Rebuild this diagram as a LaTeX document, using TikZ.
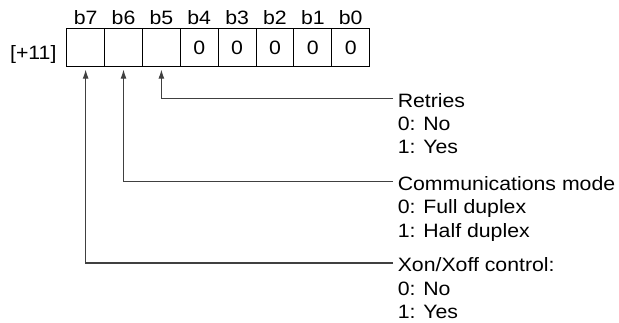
\documentclass[tikz,border=0pt]{standalone}
\usepackage{fontspec}
\setmainfont{Liberation Sans}[FakeStretch=1.1]
\usetikzlibrary{arrows.meta, positioning}
\tikzset{
  cell/.style={
    draw,
    line width=0.75pt,
    minimum width=28.4pt,
    minimum height=28.3pt,
    inner sep=0pt,
    outer sep=0pt
  },
  bitname/.style={anchor=base, inner sep=0pt},
  note/.style={anchor=north west, align=left, inner sep=0pt},
  arrow/.style={-{Latex[length=7pt,width=4.5pt]}, line width=0.9pt, draw=black!75, shorten >=2pt}
}

\begin{document}
\begin{tikzpicture}[x=0.75pt,y=0.75pt,font=\fontsize{14.5}{17.5}\selectfont,node distance=0pt]
    \useasboundingbox (0,0) rectangle (619,323);

    \node[cell] (c7) at (85.65,275.15) {};
    \node[cell, right=of c7] (c6) {};
    \node[cell, right=of c6] (c5) {};
    \node[cell, right=of c5] (c4) {0};
    \node[cell, right=of c4] (c3) {0};
    \node[cell, right=of c3] (c2) {0};
    \node[cell, right=of c2] (c1) {0};
    \node[cell, right=of c1] (c0) {0};

    \node[bitname] (h7) at ([yshift=3pt]c7.north) {b7};
    \node[bitname] (h6) at ([yshift=3pt]c6.north) {b6};
    \node[bitname] (h5) at ([yshift=3pt]c5.north) {b5};
    \node[bitname] (h4) at ([yshift=3pt]c4.north) {b4};
    \node[bitname] (h3) at ([yshift=3pt]c3.north) {b3};
    \node[bitname] (h2) at ([yshift=3pt]c2.north) {b2};
    \node[bitname] (h1) at ([yshift=3pt]c1.north) {b1};
    \node[bitname] (h0) at ([yshift=3pt]c0.north) {b0};

    \node[anchor=base east, inner sep=0pt] (reg) at ([xshift=-7.5pt,yshift=-9.1pt]c7.west) {[+11]};

    \node[note] (retries) at (397.5,230.2) {Retries\\0: No\\1: Yes};
    \node[note] (mode) at (397.5,146.8) {Communications mode\\0: Full duplex\\1: Half duplex};
    \node[note] (xon) at (397.5,65.5) {Xon/Xoff control:\\0: No\\1: Yes};

    \draw[arrow] ([shift={(-4.5,-5.5)}]retries.north west) -| (c5.south);
    \draw[arrow] ([shift={(-4.5,-5.5)}]mode.north west) -| (c6.south);
    \draw[arrow] ([shift={(-4.5,-5.5)}]xon.north west) -| (c7.south);
  \end{tikzpicture}
\end{document}
